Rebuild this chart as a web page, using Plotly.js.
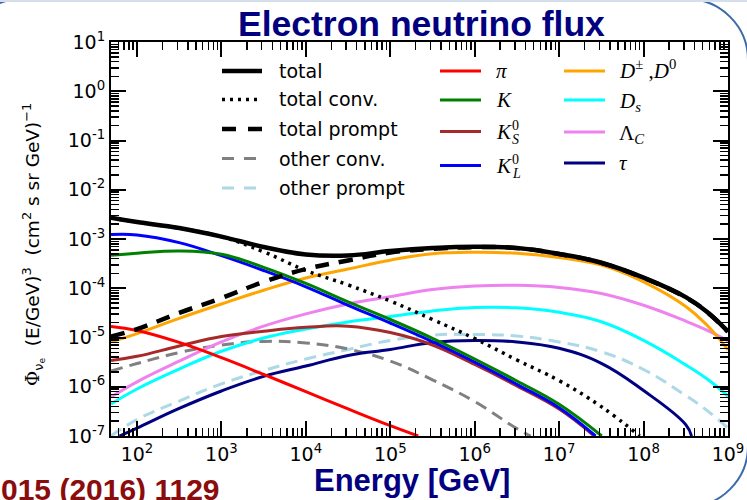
<!DOCTYPE html>
<html>
<head>
<meta charset="utf-8">
<script src="https://cdn.plot.ly/plotly-3.0.1.min.js"></script>
<style>
  html, body { margin: 0; padding: 0; background: #ffffff; }
  #frame {
    position: absolute; left: -40px; top: -2px; width: 789px; height: 510px;
    border: 2px solid #3a6aa8; border-radius: 62px; box-sizing: border-box;
  }
  #topline { position: absolute; left: 0; top: 0; width: 747px; height: 2px; background: #d5deeb; }
  #chart { position: absolute; left: 0; top: 0; width: 747px; height: 500px; }
</style>
</head>
<body>
<div id="frame"></div>
<div id="topline"></div>
<div id="chart"></div>
<script>
// Energy grid [GeV] shared by the prompt components
const energy = [49.2, 1e2, 3.16e2, 1e3, 3.16e3, 1e4, 3.16e4, 1e5, 3.16e5, 1e6, 3.16e6, 1e7, 3.16e7, 1e8, 3.16e8, 5.62e8, 1e9];

// E^3-weighted electron neutrino flux, (cm^2 s sr GeV)^-1
const fluxTotal  = [2.71e-3, 2.21e-3, 1.67e-3, 1.12e-3, 6.89e-4, 4.84e-4, 4.62e-4, 5.70e-4, 6.56e-4, 6.97e-4, 6.56e-4, 4.98e-4, 3.30e-4, 1.64e-4, 6.60e-5, 3.34e-5, 1.32e-5];
const fluxPrompt = [1.05e-5, 1.48e-5, 3.16e-5, 6.31e-5, 1.35e-4, 2.45e-4, 3.67e-4, 5.32e-4, 6.31e-4, 6.85e-4, 6.53e-4, 4.95e-4, 3.28e-4, 1.62e-4, 6.50e-5, 3.32e-5, 1.31e-5];
const fluxD      = [8.13e-6, 1.20e-5, 2.45e-5, 4.79e-5, 9.12e-5, 1.62e-4, 2.45e-4, 3.72e-4, 5.01e-4, 5.37e-4, 5.13e-4, 4.22e-4, 2.95e-4, 1.35e-4, 4.27e-5, 1.79e-5, 5.62e-6];
const fluxLambdaC= [6.17e-7, 1.26e-6, 3.31e-6, 8.13e-6, 1.70e-5, 3.02e-5, 4.79e-5, 6.76e-5, 9.44e-5, 1.11e-4, 1.15e-4, 1.04e-4, 7.82e-5, 4.51e-5, 2.15e-5, 1.41e-5, 8.51e-6];
const fluxDs     = [4.47e-7, 9.02e-7, 2.29e-6, 5.25e-6, 9.77e-6, 1.48e-5, 2.07e-5, 2.67e-5, 3.47e-5, 4.07e-5, 4.01e-5, 3.25e-5, 2.09e-5, 8.71e-6, 2.78e-6, 1.45e-6, 6.46e-7];
const fluxOtherPrompt = [1.00e-7, 2.16e-7, 5.13e-7, 1.14e-6, 2.14e-6, 3.66e-6, 5.70e-6, 8.71e-6, 1.12e-5, 1.15e-5, 1.07e-5, 8.13e-6, 5.13e-6, 2.24e-6, 6.61e-7, 3.31e-7, 1.45e-7];

const energyConv = [49.2, 1e2, 3.16e2, 1e3, 3.16e3, 1e4, 3.16e4, 1e5, 3.16e5, 1e6, 3.16e6, 1e7, 3.16e7, 9.0e7];
const fluxConv   = [2.70e-3, 2.19e-3, 1.66e-3, 1.11e-3, 5.50e-4, 2.29e-4, 1.17e-4, 5.50e-5, 2.32e-5, 9.50e-6, 3.49e-6, 1.33e-6, 3.94e-7, 1.0e-7];

const energyTau = [62, 1e2, 3.16e2, 1e3, 3.16e3, 1e4, 3.16e4, 1e5, 3.16e5, 1e6, 3.16e6, 1e7, 3.16e7, 1e8, 3.16e8, 3.7e8];
const fluxTau   = [1.0e-7, 1.45e-7, 3.63e-7, 8.20e-7, 1.62e-6, 2.63e-6, 4.31e-6, 5.70e-6, 7.94e-6, 8.71e-6, 8.13e-6, 6.03e-6, 2.99e-6, 8.36e-7, 1.70e-7, 1.0e-7];

const energyPi = [49.2, 1e2, 3.16e2, 1e3, 3.16e3, 1e4, 3.16e4, 1e5, 2.14e5];
const fluxPi   = [1.67e-5, 1.39e-5, 7.94e-6, 3.89e-6, 1.78e-6, 7.94e-7, 3.55e-7, 1.62e-7, 1.0e-7];

const energyK  = [49.2, 1e2, 3.16e2, 1e3, 3.16e3, 1e4, 3.16e4, 1e5, 3.16e5, 1e6, 3.16e6, 1e7, 3.2e7];
const fluxK    = [4.68e-4, 5.15e-4, 5.73e-4, 4.89e-4, 2.66e-4, 1.25e-4, 5.26e-5, 2.32e-5, 9.64e-6, 3.66e-6, 1.31e-6, 4.41e-7, 1.0e-7];
const energyKL = [49.2, 1e2, 3.16e2, 1e3, 3.16e3, 1e4, 3.16e4, 1e5, 3.16e5, 1e6, 3.16e6, 1e7, 2.7e7];
const fluxKL   = [1.23e-3, 1.21e-3, 8.45e-4, 4.58e-4, 2.29e-4, 1.07e-4, 4.51e-5, 1.97e-5, 8.22e-6, 3.16e-6, 1.12e-6, 3.76e-7, 1.0e-7];
const energyKS = [49.2, 1e2, 3.16e2, 1e3, 3.16e3, 1e4, 3.16e4, 1e5, 3.16e5, 1e6, 3.16e6, 1e7, 2.6e7];
const fluxKS   = [3.41e-6, 4.15e-6, 6.71e-6, 1.05e-5, 1.34e-5, 1.61e-5, 1.70e-5, 1.26e-5, 7.05e-6, 2.83e-6, 1.04e-6, 3.53e-7, 1.0e-7];

const energyOtherConv = [49.2, 1e2, 3.16e2, 1e3, 3.16e3, 1e4, 3.16e4, 1e5, 3.16e5, 1e6, 3.16e6, 4.6e6];
const fluxOtherConv   = [2.09e-6, 2.96e-6, 4.95e-6, 7.05e-6, 8.32e-6, 7.76e-6, 5.83e-6, 3.33e-6, 1.38e-6, 5.0e-7, 1.41e-7, 1.0e-7];

const xTickVals = [1e2, 1e3, 1e4, 1e5, 1e6, 1e7, 1e8, 1e9];
const xTickText = ['10<sup>2</sup>', '10<sup>3</sup>', '10<sup>4</sup>', '10<sup>5</sup>', '10<sup>6</sup>', '10<sup>7</sup>', '10<sup>8</sup>', '10<sup>9</sup>'];
const yTickVals = [1e-7, 1e-6, 1e-5, 1e-4, 1e-3, 1e-2, 1e-1, 1e0, 1e1];
const yTickText = ['10<sup>-7</sup>', '10<sup>-6</sup>', '10<sup>-5</sup>', '10<sup>-4</sup>', '10<sup>-3</sup>', '10<sup>-2</sup>', '10<sup>-1</sup>', '10<sup>0</sup>', '10<sup>1</sup>'];

// minor ticks at 2..9 of every decade
function minorTicks(lo, hi) {
  const v = [];
  for (let p = lo; p < hi; p++) for (let m = 2; m <= 9; m++) v.push(m * Math.pow(10, p));
  return v;
}

const series = [
  { x: energy, y: fluxOtherPrompt, color: '#add8e6', width: 3, dash: '12px,7px' },
  { x: energyOtherConv, y: fluxOtherConv, color: '#808080', width: 3, dash: '12px,7px' },
  { x: energyTau, y: fluxTau, color: '#000080', width: 3 },
  { x: energy, y: fluxLambdaC, color: '#ee82ee', width: 3 },
  { x: energy, y: fluxDs, color: '#00ffff', width: 3 },
  { x: energy, y: fluxD, color: '#ffa500', width: 3 },
  { x: energyKS, y: fluxKS, color: '#a52a2a', width: 3 },
  { x: energyKL, y: fluxKL, color: '#0000ff', width: 3 },
  { x: energyK, y: fluxK, color: '#008000', width: 3 },
  { x: energyPi, y: fluxPi, color: '#ff0000', width: 3 },
  { x: energy, y: fluxPrompt, color: '#000000', width: 4.5, dash: '14px,10px' },
  { x: energyConv, y: fluxConv, color: '#000000', width: 3.5, dash: '3px,5px' },
  { x: energy, y: fluxTotal, color: '#000000', width: 4.5 }
];

const traces = series.map(s => ({
  type: 'scatter', mode: 'lines', x: s.x, y: s.y,
  line: { color: s.color, width: s.width, dash: s.dash || 'solid', shape: 'spline', smoothing: 1.2 },
  hoverinfo: 'skip'
}));

// pixel -> paper helpers for the plot box (111..728, 42..436)
const PL = 111, PR = 728, PT = 42, PB = 436;
const px = v => (v - PL) / (PR - PL);
const py = v => (PB - v) / (PB - PT);

const legendKeys = [
  { x0: 222, x1: 262, y: 71, color: '#000000', width: 4.5, dash: 'solid' },
  { x0: 222, x1: 262, y: 99.5, color: '#000000', width: 3.5, dash: '3px,5px' },
  { x0: 222, x1: 262, y: 129, color: '#000000', width: 4.5, dash: '14px,12px' },
  { x0: 222, x1: 262, y: 158.5, color: '#808080', width: 3, dash: '12px,10px' },
  { x0: 222, x1: 262, y: 188, color: '#add8e6', width: 3, dash: '12px,10px' },
  { x0: 440, x1: 481, y: 71, color: '#ff0000', width: 3, dash: 'solid' },
  { x0: 440, x1: 481, y: 100, color: '#008000', width: 3, dash: 'solid' },
  { x0: 440, x1: 481, y: 131.5, color: '#a52a2a', width: 3, dash: 'solid' },
  { x0: 440, x1: 481, y: 165.5, color: '#0000ff', width: 3, dash: 'solid' },
  { x0: 564, x1: 605, y: 71, color: '#ffa500', width: 3, dash: 'solid' },
  { x0: 564, x1: 605, y: 100, color: '#00ffff', width: 3, dash: 'solid' },
  { x0: 564, x1: 605, y: 132, color: '#ee82ee', width: 3, dash: 'solid' },
  { x0: 564, x1: 605, y: 163, color: '#000080', width: 3, dash: 'solid' }
];
const shapes = legendKeys.map(k => ({
  type: 'line', xref: 'paper', yref: 'paper',
  x0: px(k.x0), x1: px(k.x1), y0: py(k.y), y1: py(k.y),
  line: { color: k.color, width: k.width, dash: k.dash }
}));

const sans = { family: 'DejaVu Sans', size: 19, color: '#000000' };
const serif = { family: 'Liberation Serif', size: 21, color: '#000000' };
const serifSmall = { family: 'Liberation Serif', size: 14, color: '#000000' };

function note(text, x, y, font, anchor) {
  return { text: text, xref: 'paper', yref: 'paper', x: px(x), y: py(y), borderpad: 0,
           xanchor: anchor || 'left', yanchor: 'middle', showarrow: false, font: font };
}

const annotations = [
  note('total', 278, 71, sans),
  note('total conv.', 278, 99.5, sans),
  note('total prompt', 278, 129, sans),
  note('other conv.', 278, 158.5, sans),
  note('other prompt', 278, 188, sans),
  note('<i>π</i>', 495, 71, serif),
  note('<i>K</i>', 495, 100, serif),
  note('<i>K</i>', 495, 132, serif),
  note('0', 511, 125, serifSmall),
  note('<i>S</i>', 511, 139, serifSmall),
  note('<i>K</i>', 495, 166, serif),
  note('0', 511, 159, serifSmall),
  note('<i>L</i>', 511, 173, serifSmall),
  note('<i>D</i><sup>±</sup> ,<i>D</i><sup>0</sup>', 618, 69, serif),
  note('<i>D</i><sub><i>s</i></sub>', 618, 102, serif),
  note('Λ<sub><i>C</i></sub>', 618, 134, serif),
  note('<i>τ</i>', 618, 163, serif),
  // headings and axis captions
  { text: '<b>Electron neutrino flux</b>', xref: 'paper', yref: 'paper', x: px(421.5), y: py(24),
    xanchor: 'center', yanchor: 'middle', showarrow: false,
    font: { family: 'Liberation Sans', size: 35.5, color: '#000080' } },
  { text: '<b>Energy [GeV]</b>', xref: 'paper', yref: 'paper', x: px(412), y: py(480),
    xanchor: 'center', yanchor: 'middle', showarrow: false,
    font: { family: 'Liberation Sans', size: 31, color: '#000080' } },
  { text: '<b>015 (2016) 1129</b>', xref: 'paper', yref: 'paper', x: px(222), y: py(489),
    xanchor: 'right', yanchor: 'middle', showarrow: false,
    font: { family: 'Liberation Sans', size: 30, color: '#8b0c0c' } },
  { text: '<span style="font-family:DejaVu Serif">Φ</span><sub>ν</sub><sub><sub>e</sub></sub>  (E/GeV)<sup>3</sup>  (cm<sup>2</sup> s sr GeV)<sup>−1</sup>',
    xref: 'paper', yref: 'paper', x: px(33), y: py(245), textangle: -90,
    xanchor: 'center', yanchor: 'middle', showarrow: false,
    font: { family: 'DejaVu Sans', size: 18.5, color: '#000000' } }
];

const axisCommon = {
  type: 'log', showline: true, linewidth: 2, linecolor: '#000000', mirror: 'allticks',
  ticks: 'inside', ticklen: 15, tickwidth: 2, tickcolor: '#000000',
  tickmode: 'array', showgrid: false, zeroline: false,
  tickfont: { family: 'DejaVu Sans', size: 19, color: '#000000' }
};

const layout = {
  width: 747, height: 500,
  margin: { l: PL, r: 747 - PR, t: PT, b: 500 - PB, pad: 0 },
  paper_bgcolor: 'rgba(0,0,0,0)', plot_bgcolor: '#ffffff',
  showlegend: false,
  xaxis: Object.assign({}, axisCommon, {
    range: [Math.log10(49.2), 9], tickvals: xTickVals, ticktext: xTickText,
    minor: { tickmode: 'array', tickvals: minorTicks(1, 9), ticks: 'inside', ticklen: 8, tickwidth: 1.5, tickcolor: '#000000', showgrid: false }
  }),
  yaxis: Object.assign({}, axisCommon, {
    range: [-7, 1], tickvals: yTickVals, ticktext: yTickText,
    minor: { tickmode: 'array', tickvals: minorTicks(-7, 1), ticks: 'inside', ticklen: 8, tickwidth: 1.5, tickcolor: '#000000', showgrid: false }
  }),
  shapes: shapes,
  annotations: annotations
};

Plotly.newPlot('chart', traces, layout, { displayModeBar: false, staticPlot: true });
</script>
</body>
</html>
